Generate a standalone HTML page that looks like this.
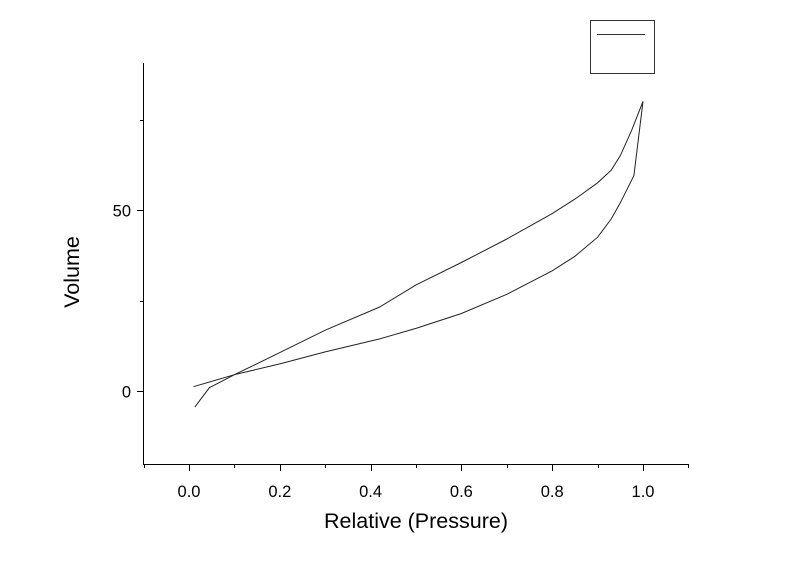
<!DOCTYPE html>
<html><head><meta charset="utf-8"><style>
body{margin:0;background:#fff}
svg text{font-family:"Liberation Sans",Arial,sans-serif;fill:#000}
</style></head><body>
<svg id="chart" width="800" height="557" xmlns="http://www.w3.org/2000/svg">
<g id="axes"></g><g id="series"></g>
<rect x="590.5" y="20.5" width="64" height="53" fill="#fff" stroke="#333" stroke-width="1"/>
<line x1="597" y1="34.5" x2="645" y2="34.5" stroke="#333" stroke-width="1"/>
<text x="416" y="528" font-size="21.5" text-anchor="middle">Relative (Pressure)</text>
<text transform="translate(79,272) rotate(-90)" font-size="21.5" text-anchor="middle">Volume</text>
</svg>
<script>
const xTicks=[0.0,0.2,0.4,0.6,0.8,1.0];
const xTickLabels=["0.0","0.2","0.4","0.6","0.8","1.0"];
const yTicks=[0,50];
const yTickLabels=["0","50"];
const yMinor=[25,75];
const branchAP=[0.013,0.045,0.1,0.2,0.3,0.42,0.5,0.6,0.7,0.8,0.85,0.9,0.93,0.95,0.975,1.0];
const branchAV=[-4.4,0.9,4.5,10.6,16.8,23.2,29.3,35.5,42,49,53,57.5,61,65,72,80];
const branchBP=[0.01,0.1,0.2,0.3,0.42,0.5,0.6,0.7,0.8,0.85,0.9,0.93,0.95,0.98,1.0];
const branchBV=[1.2,4.5,7.5,10.8,14.4,17.3,21.4,26.7,33.2,37.2,42.5,47.5,52,59.5,80];
const X=p=>189+(p-0)*454;
const Y=v=>391-v*3.62;
const ax=document.getElementById('axes'),se=document.getElementById('series');
const NS='http://www.w3.org/2000/svg';
function mk(t,a,p){const e=document.createElementNS(NS,t);for(const k in a)e.setAttribute(k,a[k]);p.appendChild(e);return e;}
let e=mk('line',{x1:143.5,y1:63,x2:143.5,y2:465,stroke:'#000','stroke-width':1},ax);


e=mk('line',{x1:143,y1:464.5,x2:689,y2:464.5,stroke:'#000','stroke-width':1},ax);


for(let i=-1;i<=11;i++){const p=i/10;const x=Math.round(X(p))+0.5;const major=i%2===0;
 e=mk('line',{x1:x,y1:464,x2:x,y2:major?471:468,stroke:'#000'},ax);
 
 }
xTicks.forEach((p,i)=>{e=mk('text',{x:X(p),y:497,'font-size':16.5,'text-anchor':'middle'},ax);e.textContent=xTickLabels[i];
 
 });
yTicks.forEach((v,i)=>{const y=Math.round(Y(v))+0.5;
 e=mk('line',{x1:137,y1:y,x2:143,y2:y,stroke:'#000'},ax);
 
 
 e=mk('text',{x:131,y:y+6,'font-size':16.5,'text-anchor':'end'},ax);e.textContent=yTickLabels[i];
 
 });
yMinor.forEach(v=>{const y=Math.round(Y(v))+0.5;
 e=mk('line',{x1:140,y1:y,x2:143,y2:y,stroke:'#000'},ax);
 
 });
function path(P,V,name){const d=P.map((p,i)=>(i?'L':'M')+X(p).toFixed(1)+','+Y(V[i]).toFixed(1)).join('');
 const el=mk('path',{d:d,fill:'none',stroke:'#222','stroke-width':1},se);
 
 }
path(branchAP,branchAV,'desorption-branch');
path(branchBP,branchBV,'adsorption-branch');
</script>
</body></html>
